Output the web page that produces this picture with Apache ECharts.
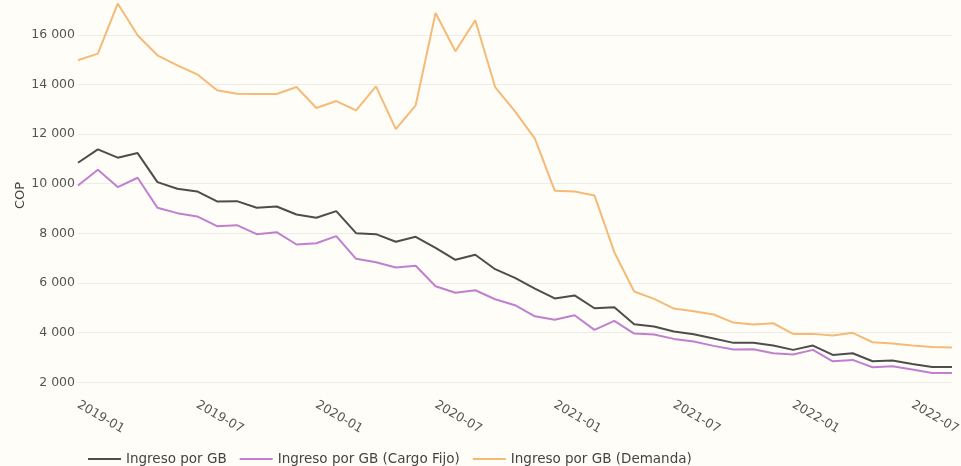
<!DOCTYPE html>
<html>
<head>
<meta charset="utf-8">
<script src="https://cdn.jsdelivr.net/npm/echarts@6/dist/echarts.min.js"></script>
<style>
  html, body { margin: 0; padding: 0; background: #fffdf8; }
  #chart { width: 961px; height: 466px; }
</style>
</head>
<body>
<div id="chart"></div>
<script>
// meses 2019-01 .. 2022-09
var months = [];
for (var y = 2019; y <= 2022; y++) {
    for (var m = 1; m <= 12; m++) {
        if (y === 2022 && m > 9) break;
        months.push(y + '-' + (m < 10 ? '0' + m : m));
    }
}

// valores (COP)
var ingresoGB = [10846, 11383, 11048, 11233, 10064, 9798, 9689, 9286, 9298, 9032,
    9084, 8761, 8628, 8895, 8008, 7967, 7661, 7863, 7419, 6935,
    7137, 6556, 6209, 5778, 5380, 5500, 4984, 5024, 4339, 4246,
    4044, 3936, 3762, 3589, 3589, 3480, 3306, 3480, 3105, 3169,
    2847, 2875, 2742, 2621, 2621];
var cargoFijo = [9931, 10564, 9863, 10241, 9032, 8814, 8681, 8290, 8330, 7967,
    8048, 7552, 7604, 7887, 6975, 6838, 6625, 6693, 5871, 5605,
    5709, 5347, 5105, 4661, 4520, 4701, 4113, 4475, 3963, 3923,
    3749, 3641, 3468, 3318, 3331, 3169, 3117, 3306, 2847, 2903,
    2605, 2645, 2512, 2379, 2379];
var demanda = [14971, 15241, 17257, 15979, 15172, 14769, 14406, 13761, 13628, 13612,
    13612, 13894, 13048, 13330, 12955, 13923, 12201, 13157, 16878, 15334,
    16584, 13894, 12915, 11814, 9720, 9689, 9528, 7242, 5657, 5362,
    4972, 4863, 4730, 4407, 4326, 4379, 3951, 3951, 3883, 3992,
    3613, 3560, 3480, 3427, 3399];

var yTicks = [2000, 4000, 6000, 8000, 10000, 12000, 14000, 16000];

function fmt(v) {
    return String(v).replace(/\B(?=(\d{3})+(?!\d))/g, ' ');
}

var mycharts = echarts.init(document.getElementById('chart'));
var font = 'DejaVu Sans, Verdana, sans-serif';

var option = {
    backgroundColor: '#fffdf8',
    animation: false,
    textStyle: { fontFamily: font },
    grid: { left: 78, right: 9, top: 0, bottom: 75, outerBoundsMode: 'none', containLabel: false },
    legend: {
        left: 83,
        top: 447,
        icon: 'rect',
        itemWidth: 33,
        itemHeight: 2,
        itemGap: 13,
        textStyle: { fontFamily: font, fontSize: 13.5, color: '#444' },
        data: ['Ingreso por GB', 'Ingreso por GB (Cargo Fijo)', 'Ingreso por GB (Demanda)']
    },
    xAxis: {
        type: 'category',
        boundaryGap: false,
        data: months,
        axisLine: { show: false },
        axisTick: { show: false },
        axisLabel: {
            interval: 5,
            rotate: -30,
            margin: 13,
            fontFamily: font,
            fontSize: 12.5,
            color: '#555'
        },
        splitLine: { show: false }
    },
    yAxis: {
        type: 'value',
        min: 1650,
        max: 17400,
        name: 'COP',
        nameLocation: 'middle',
        nameGap: 51,
        nameMoveOverlap: false,
        nameTextStyle: { fontFamily: font, fontSize: 13, color: '#444' },
        axisLine: { show: false },
        axisTick: { show: false, customValues: yTicks },
        axisLabel: {
            customValues: yTicks,
            margin: 3,
            fontFamily: font,
            fontSize: 12.5,
            color: '#555',
            formatter: fmt
        },
        splitLine: { show: true, lineStyle: { color: '#eeece7', width: 1 } }
    },
    series: [
        {
            name: 'Ingreso por GB',
            type: 'line',
            symbol: 'none',
            data: ingresoGB,
            lineStyle: { color: '#4d4d4d', width: 2 },
            itemStyle: { color: '#4d4d4d' }
        },
        {
            name: 'Ingreso por GB (Cargo Fijo)',
            type: 'line',
            symbol: 'none',
            data: cargoFijo,
            lineStyle: { color: '#c07fcf', width: 2 },
            itemStyle: { color: '#c07fcf' }
        },
        {
            name: 'Ingreso por GB (Demanda)',
            type: 'line',
            symbol: 'none',
            data: demanda,
            lineStyle: { color: '#f5bb76', width: 2 },
            itemStyle: { color: '#f5bb76' }
        }
    ]
};
mycharts.setOption(option);
</script>
</body>
</html>
